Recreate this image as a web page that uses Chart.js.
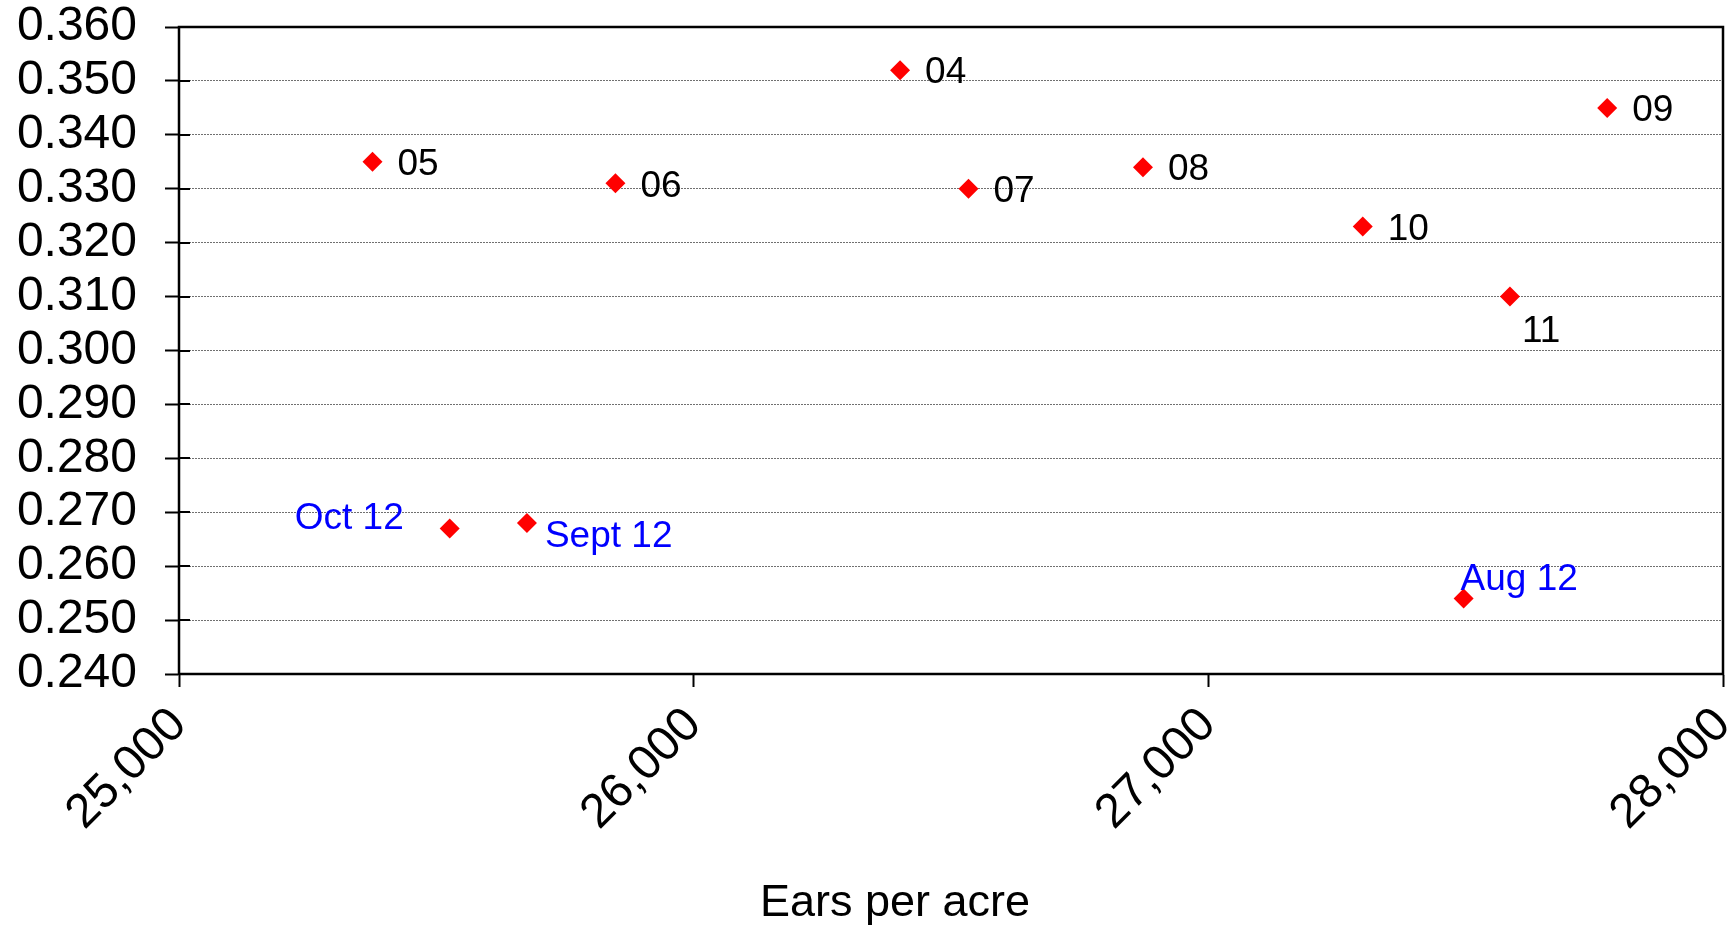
<!DOCTYPE html>
<html>
<head>
<meta charset="utf-8">
<script src="https://cdn.jsdelivr.net/npm/chart.js@4.4.0/dist/chart.umd.min.js"></script>
<style>
body { margin: 0; background: #fff; }
</style>
</head>
<body>
<canvas id="chartScatter" width="1733" height="928"></canvas>
<script>
// values
const pointLabels = ['05', '06', '04', '07', '08', '10', '11', '09', 'Oct 12', 'Sept 12', 'Aug 12'];
const earsPerAcre = [25376, 25848, 26401, 26534, 26873, 27300, 27586, 27775, 25526, 25676, 27496];
const yValues = [0.335, 0.331, 0.352, 0.330, 0.334, 0.323, 0.310, 0.345, 0.267, 0.268, 0.254];
const xTicks = [25000, 26000, 27000, 28000];
const yTicks = [0.24, 0.25, 0.26, 0.27, 0.28, 0.29, 0.30, 0.31, 0.32, 0.33, 0.34, 0.35, 0.36];
const xTitle = 'Ears per acre';

const FONT = "'Liberation Sans', Arial, sans-serif";

// where each label sits relative to its marker
const labelPlace = {
    '11': { dx: 12, dy: 35, align: 'left', color: '#000' },
    'Oct 12': { dx: -46, dy: -10, align: 'right', color: '#0000ff' },
    'Sept 12': { dx: 18, dy: 14, align: 'left', color: '#0000ff' },
    'Aug 12': { dx: -3, dy: -19, align: 'left', color: '#0000ff' }
};

const pointLabelPlugin = {
    id: 'pointLabels',
    afterDatasetsDraw(chart) {
        const ctx = chart.ctx;
        const meta = chart.getDatasetMeta(0);
        ctx.save();
        ctx.font = "37px " + FONT;
        ctx.textBaseline = 'middle';
        meta.data.forEach((el, i) => {
            const txt = pointLabels[i];
            const p = labelPlace[txt] || { dx: 25, dy: 3, align: 'left', color: '#000' };
            ctx.fillStyle = p.color;
            ctx.textAlign = p.align;
            ctx.fillText(txt, el.x + p.dx, el.y + p.dy);
        });
        ctx.restore();
    }
};

const framePlugin = {
    id: 'frame',
    beforeDatasetsDraw(chart) {
        const ctx = chart.ctx;
        const a = chart.chartArea;
        const yScale = chart.scales.y;
        ctx.save();
        ctx.strokeStyle = '#000';
        ctx.lineWidth = 2.5;
        ctx.strokeRect(a.left, a.top, a.right - a.left, a.bottom - a.top);
        // inner half of the crossing y ticks
        ctx.lineWidth = 2;
        yTicks.forEach(v => {
            const py = Math.round(yScale.getPixelForValue(v));
            ctx.beginPath();
            ctx.moveTo(a.left, py);
            ctx.lineTo(a.left + 11, py);
            ctx.stroke();
        });
        // x axis title, sits a little left of centre as in the original
        ctx.fillStyle = '#000';
        ctx.font = "45px " + FONT;
        ctx.textAlign = 'center';
        ctx.textBaseline = 'alphabetic';
        ctx.fillText(xTitle, (a.left + a.right) / 2 - 56, chart.height - 12);
        ctx.restore();
    }
};

const ctx = document.getElementById('chartScatter').getContext('2d');
new Chart(ctx, {
    type: 'scatter',
    data: {
        datasets: [{
            data: earsPerAcre.map((x, i) => ({ x: x, y: yValues[i] })),
            pointStyle: 'rectRot',
            pointRadius: 10,
            pointHoverRadius: 10,
            backgroundColor: '#ff0000',
            borderColor: '#ff0000',
            borderWidth: 0
        }]
    },
    options: {
        responsive: false,
        animation: false,
        devicePixelRatio: 1,
        layout: { padding: { top: 27, right: 9, left: 0, bottom: 0 } },
        plugins: {
            legend: { display: false },
            tooltip: { enabled: false }
        },
        scales: {
            x: {
                type: 'linear',
                min: xTicks[0],
                max: xTicks[xTicks.length - 1],
                afterBuildTicks: s => { s.ticks = xTicks.map(v => ({ value: v })); },
                afterFit: s => { s.height = 254; s.paddingLeft = 0; s.paddingRight = 0; },
                grid: {
                    drawOnChartArea: false,
                    drawTicks: true,
                    tickLength: 13,
                    tickColor: '#000',
                    tickWidth: 2
                },
                border: { display: true, color: '#000', width: 2 },
                ticks: {
                    autoSkip: false,
                    minRotation: 45,
                    maxRotation: 45,
                    padding: 10,
                    color: '#000',
                    font: { family: FONT, size: 48 },
                    callback: v => v.toLocaleString('en-US')
                }
            },
            y: {
                min: yTicks[0],
                max: yTicks[yTicks.length - 1],
                afterBuildTicks: s => { s.ticks = yTicks.map(v => ({ value: v })); },
                afterFit: s => { s.width = 179; s.paddingTop = 0; s.paddingBottom = 0; },
                grid: {
                    color: '#707070',
                    lineWidth: 1,
                    tickLength: 14,
                    tickColor: '#000',
                    tickWidth: 2,
                    tickBorderDash: []
                },
                border: { display: true, color: '#000', width: 2, dash: [2, 1] },
                ticks: {
                    autoSkip: false,
                    padding: 28,
                    color: '#000',
                    font: { family: FONT, size: 48 },
                    callback: v => v.toFixed(3)
                }
            }
        }
    },
    plugins: [framePlugin, pointLabelPlugin]
});
</script>
</body>
</html>
